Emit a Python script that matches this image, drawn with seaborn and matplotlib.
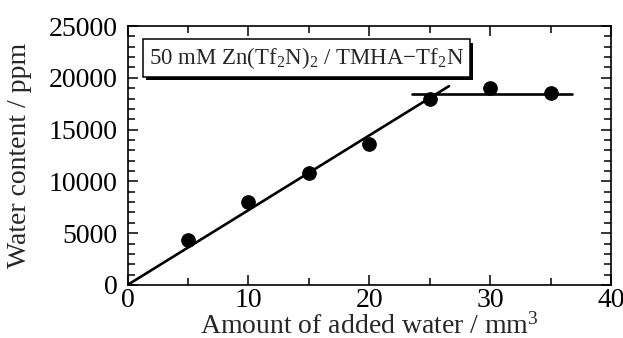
import matplotlib
matplotlib.use("Agg")
import matplotlib.pyplot as plt
import matplotlib.patheffects as pe
from matplotlib.ticker import MultipleLocator
import seaborn as sns
import pandas as pd

# data
added_water = [5, 10, 15, 20, 25, 30, 35]
water_content = [4350, 8050, 10850, 13600, 17950, 19050, 18500]
fit_x = [0, 26.6]
fit_y = [0, 19200]
plateau_x = [23.5, 36.8]
plateau_y = [18400, 18400]
label_text = "50 mM Zn(Tf$_2$N)$_2$ / TMHA$-$Tf$_2$N"

sns.set_style("ticks")
plt.rcParams['font.family'] = ['Liberation Serif', 'DejaVu Serif']
plt.rcParams['mathtext.fontset'] = 'custom'
plt.rcParams['mathtext.rm'] = 'Liberation Serif'
plt.rcParams['mathtext.it'] = 'Liberation Serif:italic'

fig = plt.figure(figsize=(6.23, 3.38), dpi=100)
ax = fig.add_axes([0.2047, 0.157, 0.776, 0.766])

df = pd.DataFrame({"x": added_water, "y": water_content})
sns.lineplot(x=fit_x, y=fit_y, ax=ax, color="black", lw=1.9)
sns.lineplot(x=plateau_x, y=plateau_y, ax=ax, color="black", lw=1.9)
sns.scatterplot(data=df, x="x", y="y", ax=ax, color="black", s=95, edgecolor="black", zorder=5)

ax.set_xlim(0, 40)
ax.set_ylim(0, 25000)
ax.xaxis.set_major_locator(MultipleLocator(10))
ax.xaxis.set_minor_locator(MultipleLocator(5))
ax.yaxis.set_major_locator(MultipleLocator(5000))
ax.yaxis.set_minor_locator(MultipleLocator(1000))
ax.tick_params(which="both", direction="in", top=True, right=True, width=1.1, labelsize=20, colors="black")
ax.tick_params(which="major", length=7)
ax.tick_params(which="minor", length=5)
ax.tick_params(axis="x", which="major", pad=2)
ax.tick_params(axis="y", which="major", pad=7)
for s in ax.spines.values():
    s.set_linewidth(1.2)
    s.set_color("black")

ax.set_xlabel("Amount of added water / mm$^3$", fontsize=20, labelpad=0)
ax.set_ylabel("Water content / ppm", fontsize=20, labelpad=12)

t = ax.text(1.75, 21900, label_text, fontsize=16.5, ha="left", va="center",
            bbox=dict(boxstyle="square,pad=0.25", fc="white", ec="black", lw=1.1))
t.get_bbox_patch().set_path_effects([
    pe.SimplePatchShadow(offset=(2.5, -2.5), shadow_rgbFace="black", alpha=1.0),
    pe.Normal()])

fig.savefig("out.png", dpi=100)
